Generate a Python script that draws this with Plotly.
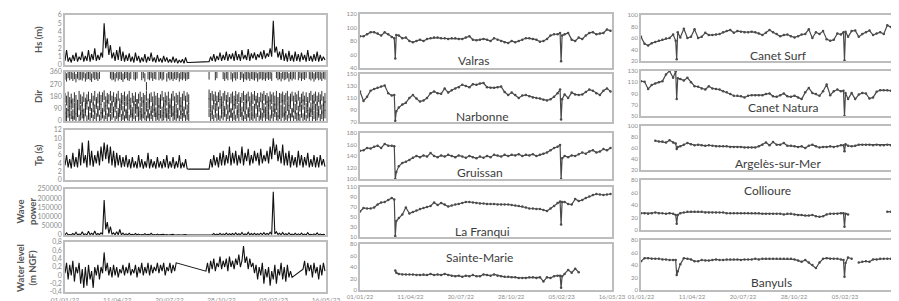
import plotly.graph_objects as go
import pandas as pd

START = pd.Timestamp("2022-01-01")
END = pd.Timestamp("2023-05-16")
DATE_TICKS = ["2022-01-01", "2022-04-11", "2022-07-20", "2022-10-28", "2023-02-05", "2023-05-16"]
DATE_TEXT = ["01/01/22", "11/04/22", "20/07/22", "28/10/22", "05/02/23", "16/05/23"]

# ---- offshore buoy series, sampled every 3 days (day offsets from 01/01/22) ----
BUOY_DAYS = list(range(0, 499, 3))

HS = [0.5,1.8,0.4,0.9,0.3,1.2,0.5,1.5,0.4,1.0,0.6,
      1.6,0.4,1.1,0.5,1.8,0.4,1.3,0.6,2.0,0.5,
      1.2,0.6,1.5,0.9,5.0,2.0,3.2,1.2,2.4,0.8,
      1.5,0.5,1.8,0.6,2.2,0.5,1.6,0.4,1.2,0.5,
      1.4,0.4,1.0,0.3,1.5,0.5,1.1,0.3,0.9,0.4,
      1.3,0.3,1.0,0.5,1.5,0.4,0.9,0.3,1.2,0.4,
      0.8,0.3,1.1,0.4,0.9,0.3,0.7,0.3,1.0,0.3,
      0.8,0.2,0.6,0.3,0.7,0.2,0.9,0.3,0.3,
      None,None,None,None,None,None,None,None,None,None,None,None,
      0.4,1.0,0.5,1.3,0.4,1.1,0.6,1.5,0.5,
      1.2,0.6,1.6,0.5,1.3,0.7,1.4,0.5,1.7,0.6,
      1.3,0.5,1.8,0.7,1.2,0.6,1.9,0.5,1.4,0.8,
      1.5,0.6,1.3,0.9,1.6,0.7,1.8,0.8,1.4,1.0,
      2.0,1.0,5.3,1.5,2.2,0.9,1.6,0.6,1.9,0.5,
      1.4,0.4,1.7,0.5,1.2,0.4,1.6,0.5,1.3,0.4,
      1.5,0.6,1.2,0.4,1.8,0.5,1.1,0.4,1.3,0.5,
      1.6,0.4,1.2,0.5,1.0,0.6]

TP = [3.5,6.0,3.0,5.0,2.8,6.5,3.2,5.5,3.0,7.5,3.5,
      9.0,4.0,6.0,3.0,9.5,3.5,7.0,3.2,6.0,4.0,
      7.0,3.5,8.0,4.5,9.0,5.0,8.5,4.0,8.0,3.5,
      7.0,3.0,6.5,3.5,6.0,3.0,5.5,3.2,6.0,3.0,
      5.0,2.8,5.5,3.0,4.5,2.8,6.0,3.0,5.0,2.7,
      4.5,3.0,6.5,2.8,5.0,3.0,4.5,2.7,5.5,3.0,
      4.5,2.8,5.0,3.0,6.0,2.8,4.5,3.0,5.5,2.7,
      4.5,3.0,6.0,2.8,4.2,3.0,5.0,2.7,2.6,
      None,None,None,None,None,None,None,None,None,None,None,None,
      2.6,5.0,3.0,6.0,3.5,5.5,3.0,6.5,3.5,
      7.0,3.5,6.0,4.0,8.0,3.5,6.5,4.0,7.0,3.5,
      6.0,4.0,8.0,3.5,6.5,4.5,7.5,3.5,6.0,4.0,
      7.0,4.5,6.5,3.5,7.5,4.0,6.0,4.5,7.0,4.0,
      8.0,5.0,10.0,6.0,8.5,4.5,7.0,4.0,8.5,3.5,
      6.5,3.5,7.0,3.0,6.0,3.5,5.5,3.0,7.0,3.5,
      6.0,3.0,5.5,3.5,6.5,3.0,5.0,3.2,6.0,3.0,
      5.5,3.0,6.0,3.5,5.0,3.2]

WAVE_POWER = [1000,12000,800,3000,500,8000,1000,15000,800,5000,1500,
      18000,1000,6000,800,20000,1200,9000,1500,22000,1000,
      8000,1500,12000,3000,190000,30000,70000,8000,45000,3000,
      12000,1000,18000,1500,30000,1000,10000,800,6000,1000,
      9000,700,4000,500,8000,900,5000,400,3000,600,
      7000,400,3500,700,9000,500,3000,400,5000,500,
      2500,400,4000,500,3000,300,2000,400,3500,300,
      2000,200,1500,300,2000,200,2500,300,300,
      None,None,None,None,None,None,None,None,None,None,None,None,
      500,4000,800,8000,600,5000,1000,9000,700,
      6000,1000,10000,800,7000,1200,8000,900,12000,1000,
      7000,900,14000,1500,6000,1000,15000,800,8000,1500,
      9000,1200,7000,2000,10000,1500,13000,1800,8000,2500,
      15000,3000,235000,6000,18000,2500,9000,1000,14000,800,
      7000,600,12000,800,5000,500,9000,700,6000,500,
      10000,900,5000,500,13000,800,4000,500,6000,700,
      11000,600,5000,800,4000,900]

WATER_LEVEL = [0.05,0.3,-0.1,0.25,0.0,0.35,-0.15,0.2,0.05,0.3,-0.2,
      0.15,-0.3,0.2,-0.25,0.25,-0.1,0.1,-0.3,0.2,0.0,
      0.25,-0.1,0.2,0.05,0.55,0.1,0.3,0.0,0.2,-0.05,
      0.25,0.0,0.2,-0.05,0.15,0.05,0.25,0.0,0.2,0.05,
      0.3,0.0,0.15,0.05,0.25,-0.05,0.2,0.05,0.3,0.0,
      0.2,0.05,0.3,0.0,0.25,0.05,0.2,0.1,0.3,0.05,
      0.25,0.1,0.3,0.0,0.2,0.1,0.3,0.05,0.25,0.1,0.3,
      None,None,None,None,None,None,None,None,None,None,None,None,None,None,None,None,None,None,
      0.1,0.3,0.05,0.35,0.15,0.4,0.1,0.3,0.2,0.45,0.15,
      0.35,0.2,0.4,0.1,0.45,0.2,0.35,0.15,0.4,0.25,
      0.5,0.2,0.35,0.7,0.3,0.45,0.15,0.4,0.2,0.3,
      0.05,0.25,-0.1,0.2,0.0,0.3,-0.2,0.15,-0.05,0.2,
      -0.25,0.1,-0.1,0.25,-0.2,0.15,0.0,0.3,-0.1,0.2,
      -0.15,0.25,-0.05,0.1,-0.05,
      None,None,None,None,None,None,
      0.15,0.35,0.0,0.3,0.1,0.25,-0.05,0.3,0.05,0.2,-0.1,0.25,0.0,0.3,0.1]

GAP12 = [None]*12
DIR_HI = ([335,320,345,330,340,325,338,315,342,330,335,
      328,345,320,336,340,330,318,344,332,338,
      325,340,None,None,None,None,None,None,342,330,
      335,320,345,328,340,332,318,338,345,330,
      325,340,None,336,328,342,None,None,330,345,
      320,255,338,330,345,325,340,335,None,330,
      342,328,336,None,320,344,330,338,325,340,
      332,345,320,338,330,342,325,336,340] + GAP12 +
     [335,None,None,None,330,345,None,None,None,
      338,325,342,330,None,336,320,345,328,340,
      None,332,345,318,338,330,342,325,340,335,
      328,345,320,336,342,330,338,325,344,332,
      340,326,None,None,345,330,338,322,342,330,
      336,345,320,338,328,342,335,None,330,345,
      325,340,332,345,None,338,328,342,320,336,
      345,330,338,325,342,335])
DIR_LO_A = ([170,150,180,140,165,130,175,155,120,185,160,
      145,175,135,160,180,125,170,150,185,140,
      165,180,155,175,190,145,170,160,185,150,
      175,140,165,185,130,170,155,180,145,160,
      185,135,170,150,175,125,165,180,140,170,
      155,185,130,165,175,145,180,150,170,135,
      160,185,140,175,150,180,130,165,185,145,
      170,155,180,140,165,185,150,175,160] + GAP12 +
     [195,170,185,160,180,150,175,190,145,
      170,185,155,175,140,165,180,150,185,160,
      175,140,170,185,155,165,180,145,175,160,
      185,150,170,140,175,165,185,155,170,145,
      180,160,175,150,185,140,170,165,180,155,
      170,185,145,165,180,150,175,160,185,140,
      165,180,150,175,140,170,185,155,165,180,
      150,175,160,185,145,170])
DIR_LO_B = ([90,60,110,75,120,50,100,85,65,115,80,
      105,55,95,120,70,110,60,100,85,125,
      75,115,90,60,105,80,120,65,95,110,
      70,100,125,60,90,115,75,105,55,95,
      120,80,65,110,90,125,70,100,60,115,
      85,105,55,120,75,95,110,65,100,80,
      125,70,95,115,60,105,85,120,75,100,
      90,60,115,80,105,70,120,85,95] + GAP12 +
     [130,100,80,120,95,110,70,125,90,
      105,75,120,85,100,60,115,90,125,80,
      95,115,70,105,85,120,65,100,110,75,
      90,125,80,105,60,115,95,70,110,85,
      120,75,100,90,115,65,105,85,120,70,
      95,110,80,125,60,100,90,115,75,105,
      85,120,70,95,110,65,100,80,115,90,
      105,75,120,85,95,110])
DIR_LO_C = ([30,10,55,20,45,5,40,25,60,15,35,
      50,20,65,10,40,30,55,15,45,25,
      60,15,35,50,10,45,25,65,20,40,
      55,5,45,30,60,20,40,10,50,35,
      15,55,25,45,10,60,30,40,20,50,
      35,10,55,25,45,15,60,30,40,20,
      50,10,35,55,25,45,15,60,30,40,
      20,50,10,45,30,55,15,40,25] + GAP12 +
     [60,30,45,15,55,25,40,10,50,
      35,60,20,45,10,55,30,40,15,50,
      25,60,35,10,45,20,55,30,40,15,
      50,25,60,10,40,30,55,20,45,35,
      15,50,25,60,35,10,45,20,55,30,
      40,15,50,25,60,10,45,30,35,20,
      55,25,40,15,50,30,60,10,45,25,
      35,55,20,45,30,50])

# ---- beach survey series (day offsets from 01/01/22) ----
SURVEY_DAYS = [0,7,14,21,28,35,42,49,56,63,
               68,70,72,77,84,91,98,105,112,119,
               126,133,140,147,154,161,168,175,182,189,
               196,203,210,217,224,231,238,245,252,259,
               266,273,280,287,294,301,308,315,322,329,
               336,343,350,357,364,371,378,385,392,397,
               399,401,406,413,420,427,434,441,448,455,
               462,469,476,483,490,497]

VALRAS = [87,87,90,93,93,91,88,93,90,86, 84,54,89,88,84,85,80,78,80,82,
          80,83,84,85,85,84,84,83,84,84, 83,83,85,87,82,81,82,83,82,80,
          84,82,80,78,77,80,78,80,82,84, 84,83,82,79,80,83,88,90,90,92,
          50,88,90,92,82,80,85,83,88,92, 93,90,91,92,97,95]
NARBONNE = [121,105,112,122,125,127,129,131,118,114, 115,72,88,94,99,102,110,115,109,104,
            106,110,118,121,118,117,126,119,123,126, 128,132,130,128,133,132,134,135,128,127,
            127,128,129,120,115,119,115,110,114,115, 113,111,110,109,107,106,108,112,118,124,
            74,108,116,110,119,116,115,116,120,124, 122,118,115,122,126,121]
GRUISSAN = [149,150,154,153,156,158,154,161,158,158, 157,100,112,122,128,130,133,137,140,138,
            141,139,145,140,138,141,139,142,140,138, 141,139,137,140,138,136,139,137,140,138,
            142,141,139,142,140,142,141,143,140,142, 141,143,140,142,144,146,150,154,156,159,
            100,136,140,138,141,140,143,146,144,148, 150,146,148,152,150,154]
LA_FRANQUI = [61,68,67,67,69,75,79,80,84,88, 85,12,42,48,55,69,57,60,63,66,
              68,70,72,79,74,78,75,71,73,75, 76,78,80,80,79,78,77,77,76,76,
              76,75,75,75,75,74,73,72,71,69, 67,67,66,66,64,62,67,72,78,81,
              35,80,80,76,75,86,82,84,88,91, 94,96,95,94,95,96]
SAINTE_MARIE = [None,None,None,None,None,None,None,None,None,None,
                None,34,30,28,27,27,27,27,26,26, 27,26,28,26,27,26,28,26,25,24,
                25,23,25,24,26,24,24,27,26,25, 27,25,24,23,23,22,22,21,21,21,
                22,22,21,22,15,22,21,24,25,25, 4,24,28,35,30,37,31,None,None,None,
                None,None,None,None,None,None]
CANET_SURF = [62,50,47,51,53,55,57,59,60,66, 55,23,70,61,76,60,62,75,60,62,
              69,65,65,66,67,70,72,74,69,72, 71,70,70,71,70,68,65,69,74,70,
              67,63,65,66,63,61,63,66,67,75, 60,70,67,72,58,55,57,68,66,70,
              21,71,62,72,73,62,67,70,73,65, 68,70,67,82,79,82]
CANET_NATURA = [112,111,98,105,108,110,112,124,130,118, 129,80,117,116,113,118,110,103,102,99,
                97,103,99,98,97,94,92,89,86,86, 85,83,86,87,87,87,87,89,90,85,
                84,87,90,85,84,86,83,80,92,100, 91,89,86,94,106,87,94,97,94,95,
                50,91,80,91,80,88,91,90,81,83, 93,96,96,96,95,95]
ARGELES = [None,None,None,None,73,72,72,70,74,70, 68,58,62,63,66,69,67,65,66,65,
           64,65,64,63,63,63,63,62,62,62, 62,61,61,61,61,63,66,70,65,71,
           66,66,69,64,64,63,62,63,60,64, 66,63,61,62,62,63,62,63,65,65,
           54,67,64,63,64,66,66,66,66,65, 66,65,65,66,65,66]
COLLIOURE = [27,27,26,27,28,27,27,26,27,26, 24,10,24,27,28,29,29,29,29,29,
             28,28,28,28,28,28,27,27,27,27, 27,27,27,27,27,27,26,26,26,26,
             26,26,25,26,26,25,24,24,23,23, 24,22,21,22,25,26,26,26,27,27,
             5,26,25,None,None,None,None,None,None,None, None,None,None,29,29,30]
BANYULS = [46,51,51,50,50,50,49,49,48,48, 48,24,30,41,51,50,49,46,46,48,
           47,47,48,49,48,48,49,49,49,49, 48,49,49,49,50,49,50,50,50,50,
           50,50,50,50,50,49,47,45,48,44, 40,35,44,50,51,50,50,50,49,48,
           21,43,52,50,None,44,45,46,45,49, 49,50,50,50,50,50]

for arr in (HS, TP, WAVE_POWER, WATER_LEVEL, DIR_HI, DIR_LO_A, DIR_LO_B, DIR_LO_C):
    assert len(arr) == len(BUOY_DAYS), len(arr)
for arr in (VALRAS, NARBONNE, GRUISSAN, LA_FRANQUI, SAINTE_MARIE, CANET_SURF,
            CANET_NATURA, ARGELES, COLLIOURE, BANYULS):
    assert len(arr) == len(SURVEY_DAYS), len(arr)

buoy_x = [START + pd.Timedelta(days=d) for d in BUOY_DAYS]
survey_x = [START + pd.Timedelta(days=d) for d in SURVEY_DAYS]

W, H = 899, 301
def fx(px): return px / W
def fy(py): return 1 - py / H

AX_COLOR = "#bdbdbd"
FONT = "Lato, Liberation Sans, sans-serif"
TICK_FONT_L = dict(family=FONT, size=7, color="#8c8c8c")
TICK_FONT_S = dict(family=FONT, size=6, color="#8c8c8c")

fig = go.Figure()
layout = dict(width=W, height=H, margin=dict(l=0, r=0, t=0, b=0, autoexpand=False),
              autosize=False, paper_bgcolor="white", plot_bgcolor="white",
              showlegend=False, annotations=[])

COLS = {"L": (57, 318), "M": (352, 604), "R": (633, 888)}
panels = [
    ("L", (7, 57), [0, 6], [0, 1, 2, 3, 4, 5, 6], None, False),
    ("L", (64, 113), [0, 360], [0, 90, 180, 270, 360], None, False),
    ("L", (122, 172), [0, 12], [0, 2, 4, 6, 8, 10, 12], None, False),
    ("L", (181, 227), [0, 250000], [0, 50000, 100000, 150000, 200000, 250000],
     ["0", "50000", "100000", "150000", "200000", "250000"], False),
    ("L", (234, 284), [-0.4, 0.8], [-0.4, -0.2, 0, 0.2, 0.4, 0.6, 0.8],
     ["-0,4", "-0,2", "0", "0,2", "0,4", "0,6", "0,8"], True),
    ("M", (6, 60), [40, 120], [40, 60, 80, 100, 120], None, False),
    ("M", (66, 114), [70, 150], [70, 90, 110, 130, 150], None, False),
    ("M", (125, 171), [100, 180], [100, 120, 140, 160, 180], None, False),
    ("M", (179, 229), [10, 110], [10, 30, 50, 70, 90, 110], None, False),
    ("M", (236, 282), [0, 80], [0, 20, 40, 60, 80], None, True),
    ("R", (7, 53), [20, 100], [20, 40, 60, 80, 100], None, False),
    ("R", (63, 108), [50, 130], [50, 70, 90, 110, 130], None, False),
    ("R", (118, 162), [20, 100], [20, 40, 60, 80, 100], None, False),
    ("R", (172, 222), [0, 80], [0, 20, 40, 60, 80], None, False),
    ("R", (232, 282), [0, 80], [0, 20, 40, 60, 80], None, True),
]

for i, (col, (ytop, ybot), yr, tv, tt, show_dates) in enumerate(panels, start=1):
    sfx = "" if i == 1 else str(i)
    x0, x1 = COLS[col]
    tf = TICK_FONT_L if col == "L" else TICK_FONT_S
    xtf = dict(TICK_FONT_L, size=6.5) if col == "L" else TICK_FONT_S
    layout["xaxis" + sfx] = dict(
        domain=[fx(x0), fx(x1)], anchor="y" + sfx, range=[START, END], type="date",
        showgrid=False, zeroline=False, showline=True, linecolor=AX_COLOR, linewidth=1.5,
        mirror=True, tickvals=DATE_TICKS, ticktext=DATE_TEXT, showticklabels=show_dates,
        ticks="", tickfont=xtf, automargin=False, fixedrange=True)
    layout["yaxis" + sfx] = dict(
        domain=[fy(ybot), fy(ytop)], anchor="x" + sfx, range=yr, showgrid=False,
        zeroline=False, showline=True, linecolor=AX_COLOR, linewidth=1.5, mirror=True,
        tickvals=tv, ticktext=tt if tt else [str(v) for v in tv], ticks="",
        tickfont=tf, automargin=False, fixedrange=True)

def ax(i):
    return ("x" if i == 1 else "x%d" % i), ("y" if i == 1 else "y%d" % i)

# left column traces
for i, series in ((1, HS), (3, TP), (4, WAVE_POWER), (5, WATER_LEVEL)):
    xa, ya = ax(i)
    fig.add_trace(go.Scatter(x=buoy_x, y=series, mode="lines", connectgaps=True,
                             line=dict(color="#111111", width=1.1), xaxis=xa, yaxis=ya,
                             hoverinfo="skip"))
xa, ya = ax(2)
for series, sz in ((DIR_HI, 6), (DIR_LO_A, 7), (DIR_LO_B, 7), (DIR_LO_C, 6)):
    fig.add_trace(go.Scatter(x=buoy_x, y=series, mode="markers",
                             marker=dict(symbol="line-ns", size=sz,
                                         line=dict(color="#1a1a1a", width=0.9)),
                             xaxis=xa, yaxis=ya, hoverinfo="skip"))

# beach survey traces
stations = [(6, VALRAS), (7, NARBONNE), (8, GRUISSAN), (9, LA_FRANQUI), (10, SAINTE_MARIE),
            (11, CANET_SURF), (12, CANET_NATURA), (13, ARGELES), (14, COLLIOURE), (15, BANYULS)]
for i, series in stations:
    xa, ya = ax(i)
    fig.add_trace(go.Scatter(x=survey_x, y=series, mode="lines+markers", connectgaps=False,
                             line=dict(color="#4a4a4a", width=1.2),
                             marker=dict(color="#4a4a4a", size=2.5), xaxis=xa, yaxis=ya,
                             hoverinfo="skip"))

# station names
names = [("Valras", 465, 53), ("Narbonne", 475, 108), ("Gruissan", 472, 164),
         ("La Franqui", 475, 223), ("Sainte-Marie", 471, 249),
         ("Canet Surf", 770, 48), ("Canet Natura", 775, 100), ("Argelès-sur-Mer", 770, 155),
         ("Collioure", 759, 182), ("Banyuls", 763, 274)]
for text, px, py in names:
    layout["annotations"].append(dict(
        text=text, x=fx(px), y=fy(py), xref="paper", yref="paper", showarrow=False,
        xanchor="center", yanchor="middle",
        font=dict(family=FONT, size=12, color="#3c3c3c")))

# left axis titles
titles = [("Hs (m)", 30, 32), ("Dir", 30, 88), ("Tp (s)", 30, 147),
          ("Wave<br>power", 18, 204), ("Water level<br>(m NGF)", 18, 260)]
for text, px, py in titles:
    layout["annotations"].append(dict(
        text="<b>%s</b>" % text, x=fx(px), y=fy(py), xref="paper", yref="paper",
        showarrow=False, textangle=-90, xanchor="center", yanchor="middle",
        font=dict(family=FONT, size=9.5, color="#555555")))

fig.update_layout(**layout)
fig.write_html("out.html")
